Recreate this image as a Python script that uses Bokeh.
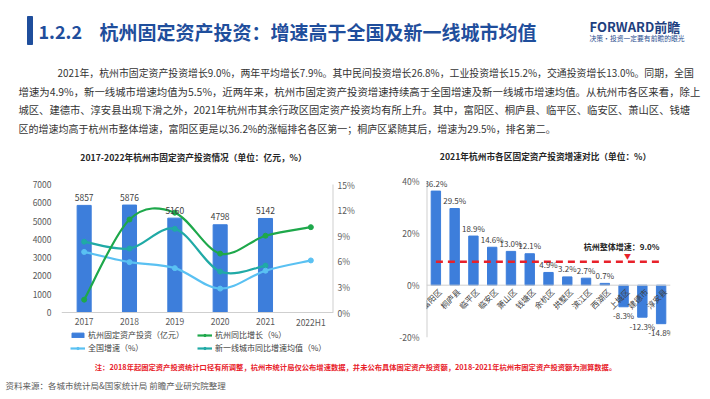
import math
from bokeh.plotting import figure
from bokeh.models import (Range1d, LinearAxis, FixedTicker, PrintfTickFormatter,
                          ColumnDataSource, LabelSet, Legend, LegendItem, Span)
from bokeh.layouts import column, row
from bokeh.core.properties import value
from bokeh.embed import file_html
from bokeh.resources import INLINE

FONT = "Noto Sans CJK SC"

# ---------------- data ----------------
years = ["2017", "2018", "2019", "2020", "2021", "2022H1"]
hz_invest = [5857, 5876, 5160, 4798, 5142]          # 亿元
hz_growth = [1.5, 10.9, 11.7, 6.9, 9.0, 10.0]       # %
national_growth = [7.1, 5.9, 5.2, 2.8, 4.9, 6.1]    # %
tier1_growth = [8.3, 7.5, 9.8, 4.8, 5.5]            # %
invest_ticks = [0, 1000, 2000, 3000, 4000, 5000, 6000, 7000]
pct_ticks = [0, 3, 6, 9, 12, 15]

districts = ["富阳区", "桐庐县", "临平区", "临安区", "萧山区", "钱塘区", "余杭区",
             "拱墅区", "滨江区", "西湖区", "上城区", "建德市", "淳安县"]
district_growth = [36.2, 29.5, 18.9, 14.6, 13.0, 12.1, 4.9, 3.2, 2.7, 0.7, -8.3, -12.3, -14.8]
hz_overall = 9.0
district_ticks = [-20, 0, 20, 40]

title_num = "1.2.2"
title_text = "杭州固定资产投资：增速高于全国及新一线城市均值"
paragraph = [
    "2021年，杭州市固定资产投资增长9.0%，两年平均增长7.9%。其中民间投资增长26.8%，工业投资增长15.2%，交通投资增长13.0%。同期，全国",
    "增速为4.9%，新一线城市增速均值为5.5%，近两年来，杭州市固定资产投资增速持续高于全国增速及新一线城市增速均值。从杭州市各区来看，除上",
    "城区、建德市、淳安县出现下滑之外，2021年杭州市其余行政区固定资产投资均有所上升。其中，富阳区、桐庐县、临平区、临安区、萧山区、钱塘",
    "区的增速均高于杭州市整体增速，富阳区更是以36.2%的涨幅排名各区第一；桐庐区紧随其后，增速为29.5%，排名第二。",
]
left_title = "2017-2022年杭州市固定资产投资情况（单位：亿元，%）"
right_title = "2021年杭州市各区固定资产投资增速对比（单位：%）"
note_text = "注：2018年起固定资产投资统计口径有所调整，杭州市统计局仅公布增速数据，并未公布具体固定资产投资额，2018-2021年杭州市固定资产投资额为测算数据。"
source_text = "资料来源：各城市统计局&国家统计局  前瞻产业研究院整理"

# ---------------- colours ----------------
TITLE_BLUE = "#1f4e9c"
BAR = "#3d7edb"
GREEN = "#1ea84b"
TEAL = "#20aaa6"
LIGHT = "#5ac1f2"
RED = "#e8212a"
TXT = "#404040"
AX = "#595959"
AXLINE = "#cfcfcf"

W = 704
# chart frames (pixels, page coordinates): both frames span y 172..356
FR_TOP, FR_BOT = 172, 356


def canvas(w, h, top, bottom):
    p = figure(width=w, height=h, x_range=Range1d(0, w), y_range=Range1d(bottom, top),
               x_axis_location=None, y_axis_location=None, toolbar_location=None,
               output_backend="svg", min_border=0, outline_line_color=None)
    p.xgrid.visible = False
    p.ygrid.visible = False
    return p


def txt(p, x, y, s, size, color, bold=False, align="left"):
    p.text(x=[x], y=[y], text=[s], text_font=value(FONT), text_font_size=size,
           text_font_style="bold" if bold else "normal", text_color=color,
           text_align=align, text_baseline="middle")


def padded_range(lo, hi, lo_px, hi_px):
    # range whose [lo, hi] maps onto pixel rows [lo_px, hi_px] of a frame spanning FR_TOP..FR_BOT
    per_px = (hi - lo) / (lo_px - hi_px)
    return Range1d(lo - (FR_BOT - lo_px) * per_px, hi + (hi_px - FR_TOP) * per_px)


def style_axis(ax, standoff):
    ax.major_tick_line_color = None
    ax.minor_tick_line_color = None
    ax.major_tick_out = 0
    ax.major_tick_in = 0
    ax.axis_line_color = None
    ax.major_label_standoff = standoff
    ax.major_label_text_font = FONT
    ax.major_label_text_font_size = "8.5px"
    ax.major_label_text_color = AX


# ---------------- header ----------------
head = canvas(W, 140, 0, 140)
head.quad(left=[27], right=[32], top=[16], bottom=[44], color=TITLE_BLUE)
txt(head, 38, 31, title_num, "18px", TITLE_BLUE, bold=True)
txt(head, 99, 31, title_text, "19px", TITLE_BLUE, bold=True)
txt(head, 589, 26, "FORWARD前瞻", "13px", "#1e3f80", bold=True)
txt(head, 589, 37, "决策·投资一定要有前瞻的眼光", "6.8px", "#2a4d8f")
para_x = [57, 18, 18, 18]
para_y = [72, 90.5, 109, 127.5]
para_fs = ["9.9px", "10.4px", "10.3px", "10px"]
for t, x, y, fs in zip(paragraph, para_x, para_y, para_fs):
    txt(head, x, y, t, fs, "#333333")

# ---------------- chart titles strip ----------------
strip = canvas(W, FR_TOP - 140, 140, FR_TOP)
txt(strip, 193, 156.7, left_title, "8.7px", "#262626", bold=True, align="center")
txt(strip, 545, 156, right_title, "8.7px", "#262626", bold=True, align="center")

# ---------------- left chart ----------------
idx = list(range(len(years)))
lp = figure(width=360, height=FR_BOT - FR_TOP, x_range=Range1d(-0.5, len(years) - 0.5),
            y_range=padded_range(invest_ticks[0], invest_ticks[-1], 312, 184),
            x_axis_location=None, toolbar_location=None, output_backend="svg",
            outline_line_color=None,
            min_border_left=61, min_border_right=27, min_border_top=0, min_border_bottom=0)
lp.xgrid.visible = False
lp.ygrid.visible = False
lp.extra_y_ranges = {"pct": padded_range(pct_ticks[0], pct_ticks[-1], 312, 184)}

# axis lines
lp.add_layout(Span(location=0, dimension="width", line_color=AXLINE, line_width=1))
lp.segment(x0=[idx[-1] + 0.5], y0=[pct_ticks[0]], x1=[idx[-1] + 0.5], y1=[pct_ticks[-1]],
           y_range_name="pct", line_color=AXLINE, line_width=2)

bar_src = ColumnDataSource(dict(x=idx[:len(hz_invest)], top=hz_invest,
                                label=[str(v) for v in hz_invest]))
bar_r = lp.vbar(x="x", top="top", width=0.31, color=BAR, source=bar_src)
lp.add_layout(LabelSet(x="x", y="top", text="label", source=bar_src, y_offset=8,
                       text_align="center", text_baseline="middle", text_font=value(FONT),
                       text_font_size="8.5px", text_color=TXT))


def bezier_segments(xs, ys):
    n = len(xs)
    d = dict(x0=[], y0=[], x1=[], y1=[], cx0=[], cy0=[], cx1=[], cy1=[])
    for i in range(n - 1):
        xp, yp = (xs[i - 1], ys[i - 1]) if i > 0 else (xs[i], ys[i])
        xn, yn = (xs[i + 2], ys[i + 2]) if i + 2 < n else (xs[i + 1], ys[i + 1])
        d["x0"].append(xs[i]); d["y0"].append(ys[i])
        d["x1"].append(xs[i + 1]); d["y1"].append(ys[i + 1])
        d["cx0"].append(xs[i] + (xs[i + 1] - xp) / 6); d["cy0"].append(ys[i] + (ys[i + 1] - yp) / 6)
        d["cx1"].append(xs[i + 1] - (xn - xs[i]) / 6); d["cy1"].append(ys[i + 1] - (yn - ys[i]) / 6)
    return d


def smooth_series(vals, color):
    xs = idx[:len(vals)]
    b = lp.bezier(source=ColumnDataSource(bezier_segments(xs, vals)), x0="x0", y0="y0",
                  x1="x1", y1="y1", cx0="cx0", cy0="cy0", cx1="cx1", cy1="cy1",
                  line_color=color, line_width=2.2, y_range_name="pct")
    s = lp.scatter(x=xs, y=vals, size=5, color=color, y_range_name="pct")
    return [b, s]


teal_r = smooth_series(tier1_growth, TEAL)
light_r = smooth_series(national_growth, LIGHT)
green_r = smooth_series(hz_growth, GREEN)

# category labels under the 0 line
yr_src = ColumnDataSource(dict(x=idx, y=[invest_ticks[0]] * len(idx), label=years))
lp.add_layout(LabelSet(x="x", y="y", text="label", source=yr_src, y_offset=-9,
                       text_align="center", text_baseline="middle", text_font=value(FONT),
                       text_font_size="8.5px", text_color=AX))

lp.yaxis.ticker = FixedTicker(ticks=invest_ticks)
style_axis(lp.yaxis[0], 10)
pax = LinearAxis(y_range_name="pct", ticker=FixedTicker(ticks=pct_ticks),
                 formatter=PrintfTickFormatter(format="%d%%"))
lp.add_layout(pax, "right")
style_axis(pax, 4)

legend = Legend(items=[
    LegendItem(label="杭州固定资产投资（亿元）", renderers=[bar_r]),
    LegendItem(label="杭州同比增长（%）", renderers=green_r),
    LegendItem(label="全国增速（%）", renderers=light_r),
    LegendItem(label="新一线城市同比增速均值（%）", renderers=teal_r),
], location=(9, 3), orientation="horizontal", ncols=2,
    label_text_font=FONT, label_text_font_size="8px", label_text_color=TXT,
    label_height=10, glyph_height=6, glyph_width=15, label_standoff=3, label_width=107,
    spacing=2, padding=0, margin=0, border_line_color=None, background_fill_alpha=0)
lp.add_layout(legend, "center")

# ---------------- right chart ----------------
xi = list(range(len(districts)))
rp = figure(width=W - 360, height=FR_BOT - FR_TOP, x_range=Range1d(-0.5, len(districts) - 0.5),
            y_range=padded_range(district_ticks[0], district_ticks[-1], 336.7, 180.7),
            x_axis_location=None, toolbar_location=None, output_backend="svg",
            outline_line_color=None,
            min_border_left=66, min_border_right=34, min_border_top=0, min_border_bottom=0)
rp.xgrid.visible = False
rp.ygrid.visible = False
rp.segment(x0=[-0.5], y0=[district_ticks[0]], x1=[-0.5], y1=[district_ticks[-1]],
           line_color=AXLINE, line_width=2)
rp.vbar(x=xi, top=district_growth, width=0.5, color=BAR)
rp.add_layout(Span(location=0, dimension="width", line_color=AXLINE, line_width=1))

pos = [(i, v) for i, v in zip(xi, district_growth) if v >= 0]
neg = [(i, v) for i, v in zip(xi, district_growth) if v < 0]
for items, off in [(pos, 8), (neg, -9)]:
    src = ColumnDataSource(dict(x=[i for i, _ in items], y=[v for _, v in items],
                                label=[f"{v:.1f}%" for _, v in items]))
    rp.add_layout(LabelSet(x="x", y="y", text="label", source=src, y_offset=off,
                           text_align="center", text_baseline="middle", text_font=value(FONT),
                           text_font_size="8px", text_color=TXT))

cat_src = ColumnDataSource(dict(x=xi, y=[0] * len(districts), label=districts))
rp.add_layout(LabelSet(x="x", y="y", text="label", source=cat_src, angle=math.pi / 4,
                       x_offset=4, y_offset=-5, text_align="right", text_baseline="middle",
                       text_font=value(FONT), text_font_size="8px", text_color=TXT))

rp.segment(x0=[xi[0]], y0=[hz_overall], x1=[xi[-1]], y1=[hz_overall],
           line_color=RED, line_width=2.5, line_dash="7 5")
mark_src = ColumnDataSource(dict(x=[xi[10]], y=[hz_overall],
                                 t1=["▼"], t2=[f"杭州整体增速：{hz_overall:.1f}%"]))
rp.add_layout(LabelSet(x="x", y="y", text="t1", source=mark_src, x_offset=4, y_offset=6,
                       text_align="center", text_baseline="middle", text_font=value(FONT),
                       text_font_size="7px", text_color=RED))
rp.add_layout(LabelSet(x="x", y="y", text="t2", source=mark_src, x_offset=-2, y_offset=15,
                       text_align="center", text_baseline="middle", text_font=value(FONT),
                       text_font_size="8px", text_font_style="bold", text_color="#262626"))

rp.yaxis.ticker = FixedTicker(ticks=district_ticks)
rp.yaxis.formatter = PrintfTickFormatter(format="%d%%")
style_axis(rp.yaxis[0], 7)

# ---------------- footer ----------------
foot = canvas(W, 38, 356, 394)
txt(foot, 355, 366, note_text, "7.3px", RED, bold=True, align="center")
txt(foot, 5, 384, source_text, "8.5px", AX)

layout = column(head, strip, row(lp, rp, spacing=0), foot, spacing=0)
open("out.html", "w").write(file_html(layout, INLINE))
